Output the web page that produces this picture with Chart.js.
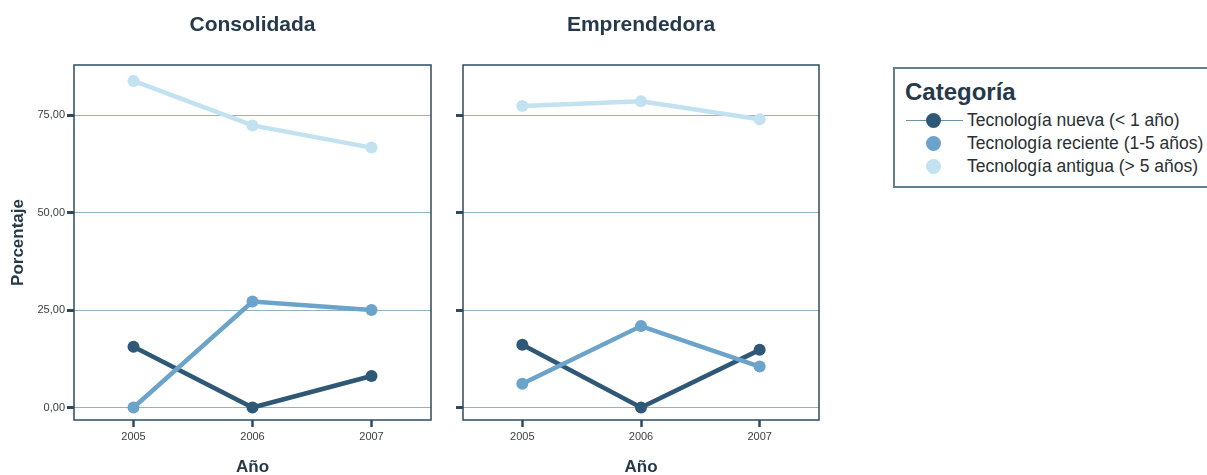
<!DOCTYPE html>
<html>

<head>
  <title>Tecnología por año</title>
  <script src="https://cdn.jsdelivr.net/npm/chart.js"></script>
  <style>
    body { margin: 0; background: #fff; width: 1207px; height: 475px; overflow: hidden; position: relative; font-family: Arial, "Liberation Sans", sans-serif; }
    .panel { position: absolute; top: 0; height: 485px; }
    #legend { position: absolute; left: 893px; top: 67px; width: 330px; height: 121px; border: 2px solid #5f7f94; box-sizing: border-box; color: #2a2f33; }
    #legend h3 { margin: 0; position: absolute; left: 10px; top: 9px; font-size: 24px; font-weight: bold; color: #26394a; }
    .row { position: absolute; left: 0; height: 20px; font-size: 17.5px; line-height: 20px; }
    .row .mk { position: absolute; left: 31px; top: 3px; width: 15px; height: 15px; border-radius: 50%; }
    .row .ln { position: absolute; left: 11px; top: 10px; width: 57px; height: 1px; background: #6f8fa3; }
    .row span.t { position: absolute; left: 72px; white-space: nowrap; }
  </style>
</head>

<body>
  <div class="panel" style="left:0;width:445px;"><canvas id="chartA"></canvas></div>
  <div class="panel" style="left:445px;width:400px;"><canvas id="chartB"></canvas></div>
  <div id="legend"><h3>Categoría</h3></div>
  <script>
    const years = [2005, 2006, 2007];
    const yTicks = [0, 25, 50, 75];
    const seriesNames = ['Tecnología nueva (< 1 año)', 'Tecnología reciente (1-5 años)', 'Tecnología antigua (> 5 años)'];
    const seriesColors = ['#2f5877', '#6ba3ca', '#c2e2f1'];

    // Consolidada
    const consNueva = [15.6, 0, 8.1];
    const consReciente = [0, 27.2, 25.0];
    const consAntigua = [83.8, 72.4, 66.7];

    // Emprendedora
    const empNueva = [16.1, 0, 14.8];
    const empReciente = [6.1, 20.9, 10.5];
    const empAntigua = [77.4, 78.6, 74.0];

    Chart.defaults.font.family = 'Arial, "Liberation Sans", sans-serif';
    Chart.defaults.color = '#2a2f33';

    // marco completo alrededor del área de datos
    const boxPlugin = {
      id: 'box',
      afterDatasetsDraw(chart) {
        const a = chart.chartArea, ctx = chart.ctx;
        ctx.save();
        ctx.strokeStyle = '#2e4a5f';
        ctx.lineWidth = 1.5;
        ctx.strokeRect(a.left, a.top, a.right - a.left, a.bottom - a.top);
        ctx.restore();
      }
    };

    function makeDatasets(lists) {
      return lists.map((vals, i) => ({
        label: seriesNames[i],
        data: years.map((y, j) => ({ x: y, y: vals[j] })),
        borderColor: seriesColors[i],
        backgroundColor: seriesColors[i],
        borderWidth: 4.5,
        pointRadius: 6,
        pointBorderWidth: 0,
        order: [2, 1, 0][i]
      }));
    }

    function makeChart(id, title, lists, showLabels, axisWidth, padRight) {
      return new Chart(document.getElementById(id), {
        type: 'line',
        data: { datasets: makeDatasets(lists) },
        plugins: [boxPlugin],
        options: {
          responsive: false,
          animation: false,
          layout: { padding: { right: padRight, top: 0, bottom: 0 } },
          plugins: {
            legend: { display: false },
            tooltip: { enabled: false },
            title: {
              display: true,
              text: title,
              fullSize: false,
              color: '#26394a',
              font: { size: 21, weight: 'bold' },
              padding: { top: 13, bottom: 26.8 }
            }
          },
          scales: {
            x: {
              type: 'linear',
              min: 2004.5,
              max: 2007.5,
              afterBuildTicks: s => { s.ticks = years.map(v => ({ value: v })); },
              afterFit: s => { s.height = 65; },
              border: { display: false },
              grid: { drawOnChartArea: false, drawTicks: true, tickLength: 7, tickWidth: 2.5, tickColor: '#2e4a5f' },
              ticks: { font: { size: 11 }, color: '#3a3f44', padding: 3, callback: v => String(v) },
              title: { display: true, text: 'Año', font: { size: 17, weight: 'bold' }, color: '#26394a', padding: { top: 0, bottom: 7 } }
            },
            y: {
              min: -3.2,
              max: 87.9,
              afterBuildTicks: s => { s.ticks = yTicks.map(v => ({ value: v })); },
              afterFit: s => { s.width = axisWidth; },
              border: { display: false },
              grid: { color: '#93b2c0', lineWidth: 1, drawTicks: true, tickLength: 7, tickWidth: 3, tickColor: '#2e4a5f' },
              ticks: {
                font: { size: 11 },
                color: '#3a3f44',
                padding: 2,
                callback: v => showLabels ? v.toFixed(2).replace('.', ',') : ''
              },
              title: { display: showLabels, text: 'Porcentaje', font: { size: 17, weight: 'bold' }, color: '#26394a', padding: { top: 8 } }
            }
          }
        }
      });
    }

    const canvasA = document.getElementById('chartA');
    canvasA.width = 445; canvasA.height = 485;
    const canvasB = document.getElementById('chartB');
    canvasB.width = 400; canvasB.height = 485;

    makeChart('chartA', 'Consolidada', [consNueva, consReciente, consAntigua], true, 74, 14);
    makeChart('chartB', 'Emprendedora', [empNueva, empReciente, empAntigua], false, 18, 26);

    // leyenda
    const legend = document.getElementById('legend');
    seriesNames.forEach((name, i) => {
      const row = document.createElement('div');
      row.className = 'row';
      row.style.top = (41 + i * 23) + 'px';
      row.innerHTML = (i === 0 ? '<div class="ln"></div>' : '') +
        '<div class="mk" style="background:' + seriesColors[i] + '"></div><span class="t"></span>';
      row.querySelector('.t').textContent = name;
      legend.appendChild(row);
    });
  </script>
</body>

</html>
